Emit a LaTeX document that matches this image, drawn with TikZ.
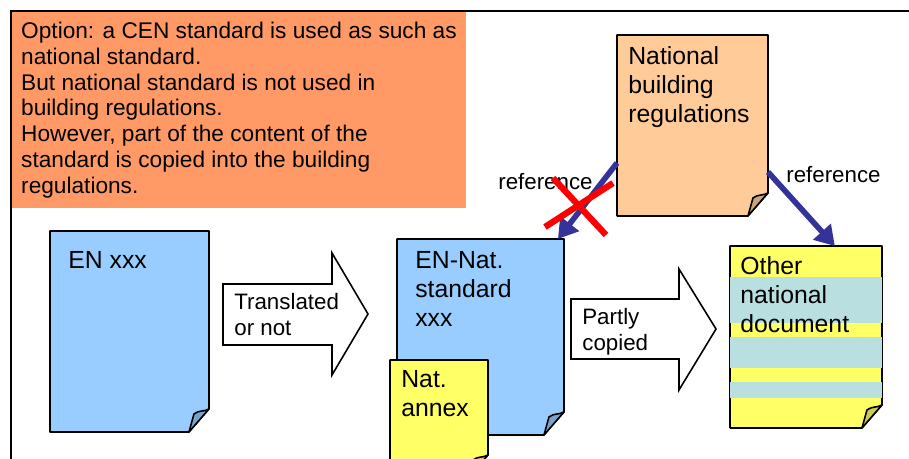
\documentclass[tikz,border=0pt]{standalone}
\usepackage{fontspec}
\setmainfont{Liberation Sans}
\usepackage{xcolor}
\usetikzlibrary{arrows.meta,calc,positioning}

\definecolor{optorange}{HTML}{FF9966}
\definecolor{docblue}{HTML}{99CCFF}
\definecolor{docbluefold}{HTML}{7AA3CC}
\definecolor{regorange}{HTML}{FFCC99}
\definecolor{regfold}{HTML}{CCA37A}
\definecolor{annexyellow}{HTML}{FFFF66}
\definecolor{yellowfold}{HTML}{CCCC52}
\definecolor{stripeblue}{HTML}{B9DFE1}
\definecolor{refblue}{HTML}{333399}

% page with folded lower right corner, drawn on an empty node
\newcommand{\foldpage}[3]{%
  \filldraw[fill=#2, pageline] (#1.north west) -- (#1.north east)
    -- ($(#1.south east)+(0,-23)$) -- ($(#1.south east)+(-20,0)$)
    -- (#1.south west) -- cycle;
  \filldraw[fill=#3, pageline] ($(#1.south east)+(-20,0)$)
    -- ($(#1.south east)+(-15,-18)$)
    .. controls ($(#1.south east)+(-10,-22)$) and ($(#1.south east)+(-5,-20)$) ..
    ($(#1.south east)+(0,-23)$) -- cycle;
}

\begin{document}
\begin{tikzpicture}[x=0.02cm,y=-0.02cm,
    page/.style={inner sep=0pt, outer sep=0pt, anchor=north west},
    pageline/.style={draw=black, line width=0.9pt, line join=round},
    doctext/.style={inner sep=0pt, anchor=north west, align=left,
      font={\fontsize{14.1}{16.5}\selectfont}},
    smalltext/.style={inner sep=0pt, anchor=north west, align=left,
      font={\fontsize{12.7}{14.7}\selectfont}},
    notebox/.style={fill=optorange, inner sep=0pt, outer sep=0pt, anchor=north west,
      align=left, font={\fontsize{12.9}{14.7}\selectfont}},
    blockarrow/.style={draw=black, fill=white, line width=0.9pt, line join=miter},
    refarrow/.style={draw=refblue, line width=3.2pt, -{Triangle[length=11pt,width=13pt]}},
    cross/.style={draw=red, line width=3.6pt}]
    \clip (0,0) rectangle (909,459);

    % Option text
    \node[notebox, minimum width=9.08cm, minimum height=3.92cm] (note) at (12,12)
      {Option: a CEN standard is used as such as\\national standard.\\But national standard is not used in\\building regulations.\\However, part of the content of the\\standard is copied into the building\\regulations.};

    % Frame
    \draw[line width=1.2pt] (11,459) -- (11,11) -- (909,11);

    % EN xxx
    \node[page, minimum width=3.18cm, minimum height=4.02cm] (enxxx) at (50,231) {};
    \foldpage{enxxx}{docblue}{docbluefold}
    \node[doctext] (enxxx-txt) at ($(enxxx.north west)+(18,20)$) {EN xxx};

    % EN-Nat. standard with annex
    \node[page, minimum width=3.34cm, minimum height=3.92cm] (ennat) at (397,239) {};
    \foldpage{ennat}{docblue}{docbluefold}
    \node[doctext] (ennat-txt) at ($(ennat.north west)+(18,12)$) {EN-Nat.\\standard\\xxx};

    \node[page, minimum width=1.96cm, minimum height=2.36cm] (annex) at (390,360) {};
    \foldpage{annex}{annexyellow}{yellowfold}
    \node[doctext] (annex-txt) at ($(annex.north west)+(11,10)$) {Nat.\\annex};

    % National building regulations
    \node[page, minimum width=3.02cm, minimum height=3.62cm] (natreg) at (617,35) {};
    \foldpage{natreg}{regorange}{regfold}
    \node[doctext] (natreg-txt) at ($(natreg.north west)+(11,11)$) {National\\building\\regulations};

    % Other national document
    \node[page, minimum width=3.04cm, minimum height=3.64cm] (other) at (730,246) {};
    \foldpage{other}{annexyellow}{yellowfold}
    \fill[stripeblue] (730,277) rectangle (882,323);
    \fill[stripeblue] (730,337) rectangle (882,368);
    \fill[stripeblue] (730,382) rectangle (882,398);
    \node[doctext] (other-txt) at ($(other.north west)+(10,10)$) {Other\\national\\document};

    % Translated or not
    \draw[blockarrow] (223,284) -- (332,284) -- (332,253) -- (368,314)
      -- (332,375) -- (332,345) -- (223,345) -- cycle;
    \node[smalltext] (transl) at (234,293) {Translated\\or not};

    % Partly copied
    \draw[blockarrow] (571,299) -- (679,299) -- (679,269) -- (716,329)
      -- (679,390) -- (679,359) -- (571,359) -- cycle;
    \node[smalltext] (partly) at (582,308) {Partly\\copied};

    % References
    \node[smalltext] (ref-l) at (498,173) {reference};
    \node[smalltext] (ref-r) at (786,166) {reference};
    \coordinate (natreg-l) at ($(natreg.north west)!0.707!(natreg.south west)$);
    \coordinate (natreg-r) at ($(natreg.north east)!0.757!(natreg.south east)$);
    \coordinate (ennat-t) at ($(ennat.north west)!0.964!(ennat.north east)$);
    \coordinate (other-t) at ($(other.north west)!0.69!(other.north east)$);
    \draw[refarrow] (natreg-l) -- (ennat-t);
    \draw[refarrow] (natreg-r) -- (other-t);

    % crossed out
    \draw[cross] (553,178) -- (606,235);
    \draw[cross] (545,227) -- (613,183);
\end{tikzpicture}
\end{document}
